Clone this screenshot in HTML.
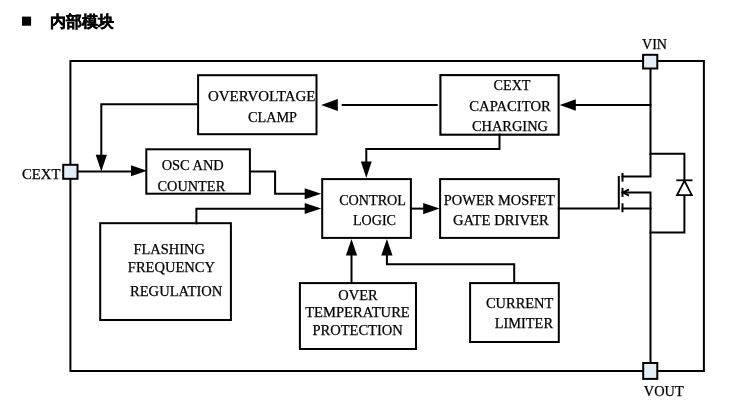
<!DOCTYPE html>
<html><head><meta charset="utf-8"><style>
html,body{margin:0;padding:0;background:#fff;width:756px;height:413px;overflow:hidden}
svg{position:absolute;left:0;top:0;will-change:transform}
.t text{font-family:"Liberation Serif",serif;font-size:14.5px;fill:#000;stroke:#000;stroke-width:0.25px}
.title{position:absolute;left:50px;top:12px;font-family:"Liberation Sans",sans-serif;font-weight:900;font-size:15.5px;line-height:20px;color:#000;white-space:nowrap;-webkit-text-stroke:0.45px #000}
</style></head><body>
<svg width="756" height="413" viewBox="0 0 756 413">
<rect x="70.4" y="61" width="633.5" height="310" fill="none" stroke="#000" stroke-width="2.0"/>
<rect x="198.1" y="75.2" width="118.4" height="59.0" fill="none" stroke="#000" stroke-width="2.0"/>
<rect x="440.4" y="75.1" width="118.2" height="59.6" fill="none" stroke="#000" stroke-width="2.1"/>
<rect x="146.3" y="149.3" width="103.6" height="44.4" fill="none" stroke="#000" stroke-width="2.0"/>
<rect x="322.2" y="179.1" width="88.7" height="58.8" fill="none" stroke="#000" stroke-width="2.0"/>
<rect x="440.1" y="179.1" width="118.7" height="58.8" fill="none" stroke="#000" stroke-width="2.0"/>
<rect x="100.2" y="223.2" width="130.7" height="96.8" fill="none" stroke="#000" stroke-width="2.0"/>
<rect x="299.9" y="283.1" width="116.1" height="65.9" fill="none" stroke="#000" stroke-width="2.0"/>
<rect x="470.1" y="283.1" width="88.7" height="58.9" fill="none" stroke="#000" stroke-width="2.0"/>
<path d="M650.5,70 L650.5,176.6 L622.5,176.6" fill="none" stroke="#000" stroke-width="2.0" stroke-linejoin="miter" stroke-linecap="square"/>
<path d="M650.5,105 L576,105" fill="none" stroke="#000" stroke-width="2.0" stroke-linejoin="miter" stroke-linecap="square"/>
<path d="M559.8,105 L575.8,99.2 L575.8,110.8 Z" fill="#000"/>
<path d="M436.7,105 L342.7,105" fill="none" stroke="#000" stroke-width="2.0" stroke-linejoin="miter" stroke-linecap="square"/>
<path d="M321.1,105 L337.8,99.1 L337.8,110.9 Z" fill="#000"/>
<path d="M197.8,104.2 L101.3,104.2 L101.3,155" fill="none" stroke="#000" stroke-width="2.0" stroke-linejoin="miter" stroke-linecap="square"/>
<path d="M101.3,171.5 L95.7,154.7 L106.89999999999999,154.7 Z" fill="#000"/>
<path d="M78,171.6 L131.3,171.6" fill="none" stroke="#000" stroke-width="2.0" stroke-linejoin="miter" stroke-linecap="square"/>
<path d="M147,170.8 L131,165.3 L131,176.3 Z" fill="#000"/>
<path d="M250,171.6 L275.1,171.6 L275.1,193.8 L305,193.8" fill="none" stroke="#000" stroke-width="2.0" stroke-linejoin="miter" stroke-linecap="square"/>
<path d="M321.2,193.8 L304.7,188.35000000000002 L304.7,199.25 Z" fill="#000"/>
<path d="M196.4,223.2 L196.4,208.7 L305,208.7" fill="none" stroke="#000" stroke-width="2.0" stroke-linejoin="miter" stroke-linecap="square"/>
<path d="M321.2,208.6 L304.7,203.1 L304.7,214.1 Z" fill="#000"/>
<path d="M499.5,134.6 L499.5,149 L366.3,149 L366.3,162" fill="none" stroke="#000" stroke-width="2.0" stroke-linejoin="miter" stroke-linecap="square"/>
<path d="M366.3,178 L360.90000000000003,161.5 L371.7,161.5 Z" fill="#000"/>
<path d="M410.9,208.6 L424,208.6" fill="none" stroke="#000" stroke-width="2.0" stroke-linejoin="miter" stroke-linecap="square"/>
<path d="M439.6,208.6 L423.2,203.0 L423.2,214.2 Z" fill="#000"/>
<path d="M558.8,208.5 L618.8,208.5 L618.8,176.9" fill="none" stroke="#000" stroke-width="2.0" stroke-linejoin="miter" stroke-linecap="square"/>
<path d="M351.5,282.6 L351.5,255.4" fill="none" stroke="#000" stroke-width="2.0" stroke-linejoin="miter" stroke-linecap="square"/>
<path d="M351.5,239 L345.9,255.4 L357.1,255.4 Z" fill="#000"/>
<path d="M514.2,282.6 L514.2,264.2 L386.9,264.2 L386.9,255.4" fill="none" stroke="#000" stroke-width="2.0" stroke-linejoin="miter" stroke-linecap="square"/>
<path d="M386.9,239 L381.29999999999995,255.4 L392.5,255.4 Z" fill="#000"/>
<path d="M622.5,173 L622.5,181.6" stroke="#000" stroke-width="2" fill="none"/>
<path d="M622.5,187.9 L622.5,196.9" stroke="#000" stroke-width="2" fill="none"/>
<path d="M622.5,203.3 L622.5,212.2" stroke="#000" stroke-width="2" fill="none"/>
<path d="M622.5,192.4 L650.5,192.4 L650.5,362" fill="none" stroke="#000" stroke-width="2.0" stroke-linejoin="miter" stroke-linecap="square"/>
<path d="M622.5,208.5 L650.5,208.5" fill="none" stroke="#000" stroke-width="2.0" stroke-linejoin="miter" stroke-linecap="square"/>
<path d="M629,189.4 L623.2,192.5 L629,195.6" fill="none" stroke="#000" stroke-width="2"/>
<path d="M650.5,153.7 L684.4,153.7 L684.4,232.4 L650.5,232.4" fill="none" stroke="#000" stroke-width="2.0" stroke-linejoin="miter" stroke-linecap="square"/>
<path d="M676.3,180.3 L692.5,180.3" stroke="#000" stroke-width="1.8"/>
<path d="M684.4,180.8 L677,195.1 L691.8,195.1 Z" fill="#fff" stroke="#000" stroke-width="1.8" stroke-linejoin="miter"/>
<rect x="643.1" y="54.8" width="14.2" height="13.7" fill="#e5eef7" stroke="#000" stroke-width="2"/>
<rect x="63.2" y="164.8" width="14.3" height="14.0" fill="#e5eef7" stroke="#000" stroke-width="2"/>
<rect x="643.2" y="363" width="14.1" height="15.9" fill="#e5eef7" stroke="#000" stroke-width="2"/>
<rect x="22" y="16.6" width="9.1" height="9.1" fill="#000"/>
<g class="t">
<text x="208" y="101" textLength="107.5" lengthAdjust="spacingAndGlyphs">OVERVOLTAGE</text>
<text x="248" y="122" textLength="49" lengthAdjust="spacingAndGlyphs">CLAMP</text>
<text x="493.6" y="89.7" textLength="36.9" lengthAdjust="spacingAndGlyphs">CEXT</text>
<text x="469.3" y="110.5" textLength="81.5" lengthAdjust="spacingAndGlyphs">CAPACITOR</text>
<text x="471.9" y="130.5" textLength="76.1" lengthAdjust="spacingAndGlyphs">CHARGING</text>
<text x="161.7" y="170" textLength="62.1" lengthAdjust="spacingAndGlyphs">OSC AND</text>
<text x="157.5" y="190.5" textLength="67.7" lengthAdjust="spacingAndGlyphs">COUNTER</text>
<text x="339.2" y="205.2" textLength="66.8" lengthAdjust="spacingAndGlyphs">CONTROL</text>
<text x="353" y="224.5" textLength="43" lengthAdjust="spacingAndGlyphs">LOGIC</text>
<text x="443.8" y="205.2" textLength="111.1" lengthAdjust="spacingAndGlyphs">POWER MOSFET</text>
<text x="453" y="225" textLength="95.8" lengthAdjust="spacingAndGlyphs">GATE DRIVER</text>
<text x="133.5" y="254" textLength="71.5" lengthAdjust="spacingAndGlyphs">FLASHING</text>
<text x="127.8" y="271.8" textLength="87.2" lengthAdjust="spacingAndGlyphs">FREQUENCY</text>
<text x="130" y="295.8" textLength="92.3" lengthAdjust="spacingAndGlyphs">REGULATION</text>
<text x="338.3" y="300" textLength="39.3" lengthAdjust="spacingAndGlyphs">OVER</text>
<text x="305.2" y="317" textLength="104.6" lengthAdjust="spacingAndGlyphs">TEMPERATURE</text>
<text x="312.4" y="334.6" textLength="90.4" lengthAdjust="spacingAndGlyphs">PROTECTION</text>
<text x="486" y="307.8" textLength="67.3" lengthAdjust="spacingAndGlyphs">CURRENT</text>
<text x="494.7" y="327.7" textLength="58.3" lengthAdjust="spacingAndGlyphs">LIMITER</text>
<text x="642" y="48.8" textLength="25" lengthAdjust="spacingAndGlyphs">VIN</text>
<text x="643.8" y="395.7" textLength="39.9" lengthAdjust="spacingAndGlyphs">VOUT</text>
<text x="22" y="179.2" textLength="38.5" lengthAdjust="spacingAndGlyphs">CEXT</text>
</g>
</svg>
<div class="title">内部模块</div>
</body></html>
